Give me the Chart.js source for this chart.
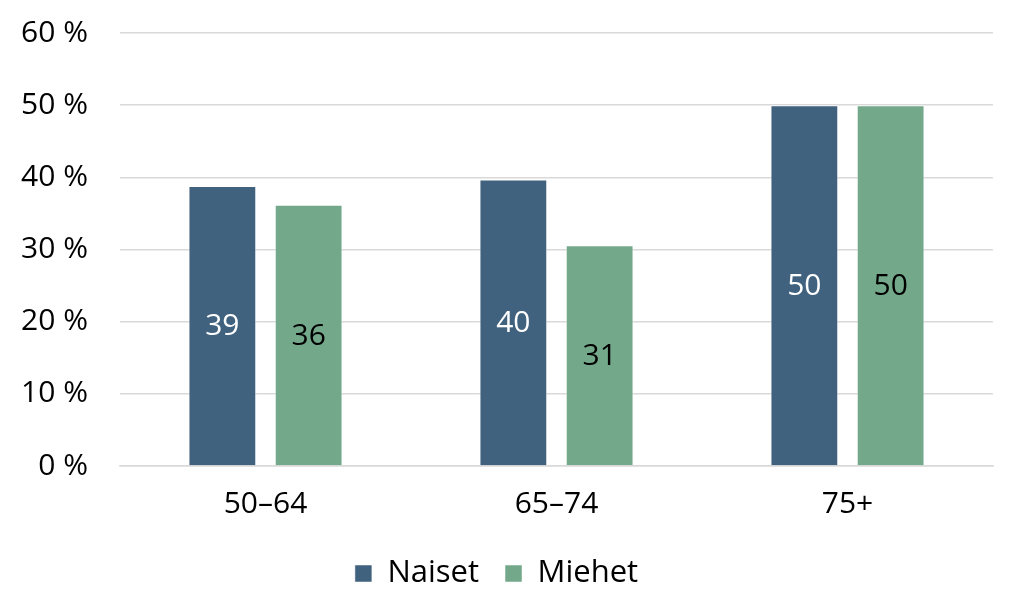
<!DOCTYPE html>
<html>
<head>
<meta charset="utf-8">
<script src="https://cdn.jsdelivr.net/npm/chart.js@4/dist/chart.umd.min.js"></script>
<style>
  html, body { margin: 0; padding: 0; background: #fff; }
  #wrap { width: 1024px; height: 616px; }
</style>
</head>
<body>
<div id="wrap"><canvas id="c" width="1024" height="616"></canvas></div>
<script>
const categories = ["50\u201364", "65\u201374", "75+"];
const naiset = [38.8, 39.7, 50.0];
const miehet = [36.2, 30.6, 50.0];
const yTicks = [0, 10, 20, 30, 40, 50, 60];
const seriesNames = ["Naiset", "Miehet"];

const FONT = "'Open Sans', sans-serif";

const valueLabels = {
  id: 'valueLabels',
  afterDatasetsDraw(chart) {
    const ctx = chart.ctx;
    ctx.save();
    ctx.font = "30px " + FONT;
    ctx.textAlign = 'center';
    ctx.textBaseline = 'middle';
    chart.data.datasets.forEach((ds, i) => {
      const meta = chart.getDatasetMeta(i);
      meta.data.forEach((el, j) => {
        const v = ds.data[j];
        ctx.fillStyle = ds.labelColor;
        ctx.fillText(String(Math.round(v)), el.x, (el.y + el.base) / 2 + 1);
      });
    });
    ctx.restore();
  }
};

new Chart(document.getElementById('c'), {
  type: 'bar',
  data: {
    labels: categories,
    datasets: [
      { label: seriesNames[0], data: naiset, backgroundColor: '#41627F', borderColor: 'rgba(255,255,255,0.5)', borderWidth: 1, labelColor: '#ffffff' },
      { label: seriesNames[1], data: miehet, backgroundColor: '#73A98A', borderColor: 'rgba(255,255,255,0.5)', borderWidth: 1, labelColor: '#000000' }
    ]
  },
  options: {
    responsive: false,
    animation: false,
    devicePixelRatio: 1,
    layout: { padding: { top: 33, right: 31, left: 0, bottom: 17 } },
    datasets: { bar: { categoryPercentage: 0.593, barPercentage: 0.786 } },
    plugins: {
      legend: {
        position: 'bottom',
        labels: {
          font: { family: FONT, size: 31 },
          color: '#000',
          boxWidth: 17,
          boxHeight: 17,
          padding: 26
        }
      },
      tooltip: { enabled: false }
    },
    scales: {
      x: {
        grid: { display: false },
        border: { display: true, color: '#d9d9d9', width: 1.5 },
        ticks: { font: { family: FONT, size: 30 }, color: '#000', padding: 12 },
        afterFit(s) { s.height = 66; s.paddingLeft = 0; s.paddingRight = 0; }
      },
      y: {
        min: 0, max: 60,
        afterBuildTicks(s) { s.ticks = yTicks.map(v => ({ value: v })); },
        grid: { color: '#d9d9d9', lineWidth: 1.5, drawTicks: false },
        border: { display: false },
        ticks: {
          font: { family: FONT, size: 30 },
          color: '#000',
          padding: 32,
          callback: v => v + ' %'
        },
        afterFit(s) { s.width = 120; s.paddingTop = 0; s.paddingBottom = 0; }
      }
    }
  },
  plugins: [valueLabels]
});
</script>
</body>
</html>
